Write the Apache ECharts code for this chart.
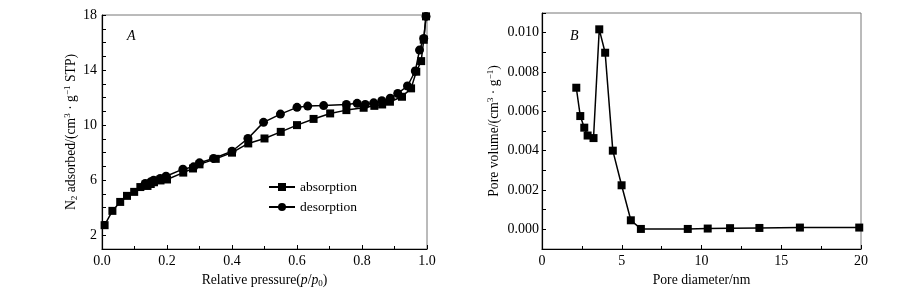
<!DOCTYPE html>
<html>
<head>
<meta charset="utf-8">
<script src="https://cdn.jsdelivr.net/npm/echarts@6/dist/echarts.min.js"></script>
<style>
  html, body { margin: 0; padding: 0; background: #fff; }
  #chart { width: 911px; height: 293px; }
</style>
</head>
<body>
<div id="chart"></div>
<script>
// panel A: N2 isotherm
const absP = [0.008, 0.032, 0.056, 0.077, 0.099, 0.118, 0.14, 0.15, 0.16, 0.18, 0.2, 0.25, 0.28, 0.3, 0.35, 0.4, 0.45, 0.5, 0.55, 0.6, 0.651, 0.702, 0.752, 0.805, 0.838, 0.862, 0.886, 0.923, 0.951, 0.967, 0.982, 0.99, 0.997]
const absV = [2.73, 3.77, 4.42, 4.86, 5.15, 5.5, 5.58, 5.72, 5.85, 5.98, 6.05, 6.55, 6.85, 7.15, 7.55, 8.0, 8.67, 9.03, 9.51, 10.0, 10.45, 10.85, 11.09, 11.26, 11.4, 11.5, 11.7, 12.06, 12.67, 13.88, 14.65, 16.2, 17.9]
const desP = [0.133, 0.15, 0.159, 0.179, 0.197, 0.249, 0.282, 0.3, 0.343, 0.4, 0.449, 0.497, 0.549, 0.6, 0.633, 0.682, 0.752, 0.785, 0.81, 0.836, 0.861, 0.887, 0.91, 0.94, 0.964, 0.977, 0.99, 0.997]
const desV = [5.76, 5.88, 6.0, 6.12, 6.29, 6.8, 6.97, 7.26, 7.58, 8.1, 9.03, 10.2, 10.8, 11.29, 11.38, 11.42, 11.5, 11.58, 11.5, 11.62, 11.77, 11.95, 12.3, 12.84, 13.93, 15.45, 16.3, 17.9]
const yTicksA = [2, 6, 10, 14, 18]
const yMinorA = [1, 2, 3, 4, 5, 6, 7, 8, 9, 10, 11, 12, 13, 14, 15, 16, 17, 18]

// panel B: pore size distribution
const poreD = [2.15, 2.4, 2.65, 2.86, 3.23, 3.59, 3.96, 4.44, 4.99, 5.57, 6.2, 9.14, 10.39, 11.79, 13.63, 16.17, 19.89]
const poreV = [0.0072, 0.00576, 0.00517, 0.00477, 0.00464, 0.01017, 0.00898, 0.0040, 0.00224, 0.00046, 0.00002, 0.00002, 0.00004, 0.00006, 0.00007, 0.00009, 0.00009]
const yTicksB = [0, 0.002, 0.004, 0.006, 0.008, 0.010]
const yMinorB = [-0.001, 0, 0.001, 0.002, 0.003, 0.004, 0.005, 0.006, 0.007, 0.008, 0.009, 0.010, 0.011]

const serif = 'Liberation Serif'
const black = '#000'

const nameRich = {
  a: { fontFamily: serif, fontSize: 13.7, color: black, lineHeight: 16 },
  i: { fontFamily: serif, fontSize: 13.7, fontStyle: 'italic', color: black, lineHeight: 16 },
  sub: { fontFamily: serif, fontSize: 9, color: black, verticalAlign: 'bottom', lineHeight: 16 },
  sup: { fontFamily: serif, fontSize: 9, color: black, verticalAlign: 'top', lineHeight: 16 },
}

const axisLine = { show: true, onZero: false, lineStyle: { color: black, width: 1.2 } }
const tickStyle = { inside: true, length: 4, lineStyle: { color: black, width: 1 } }
const labelStyle = { fontFamily: serif, fontSize: 14, color: black }

const chart = echarts.init(document.getElementById('chart'))
chart.setOption({
  animation: false,
  grid: [
    { left: 102, right: 484, top: 15, bottom: 44, show: true, borderColor: '#777', borderWidth: 1 },
    { left: 542, right: 50, top: 13, bottom: 44, show: true, borderColor: '#777', borderWidth: 1 },
  ],
  legend: {
    data: ['absorption', 'desorption'],
    orient: 'vertical',
    left: 263,
    top: 175,
    itemWidth: 26,
    itemHeight: 10,
    itemGap: 6,
    textStyle: { fontFamily: serif, fontSize: 13.5, color: black },
  },
  xAxis: [
    {
      gridIndex: 0, type: 'value', min: 0, max: 1, interval: 0.2,
      axisLine, axisTick: tickStyle,
      minorTick: { show: true, splitNumber: 2, length: 3, lineStyle: { color: black } },
      splitLine: { show: false },
      axisLabel: { ...labelStyle, margin: 5, formatter: v => v.toFixed(1) },
      name: '{a|Relative pressure(}{i|p}{a|/}{i|p}{sub|0}{a|)}',
      nameLocation: 'middle', nameGap: 19,
      nameTextStyle: { rich: nameRich },
    },
    {
      gridIndex: 1, type: 'value', min: 0, max: 20, interval: 5,
      axisLine, axisTick: tickStyle,
      minorTick: { show: true, splitNumber: 2, length: 3, lineStyle: { color: black } },
      splitLine: { show: false },
      axisLabel: { ...labelStyle, margin: 5 },
      name: '{a|Pore diameter/nm}',
      nameLocation: 'middle', nameGap: 19,
      nameTextStyle: { rich: nameRich },
    },
  ],
  yAxis: [
    {
      gridIndex: 0, type: 'value', min: 1, max: 18,
      axisLine, axisTick: { ...tickStyle, customValues: yMinorA },
      splitLine: { show: false },
      axisLabel: { ...labelStyle, margin: 5, customValues: yTicksA },
      name: '{a|N}{sub|2}{a| adsorbed/(cm}{sup|3}{a| · g}{sup|−1}{a| STP)}',
      nameLocation: 'middle', nameGap: 22, nameRotate: 90,
      nameTextStyle: { rich: nameRich },
    },
    {
      gridIndex: 1, type: 'value', min: -0.001, max: 0.011,
      axisLine, axisTick: { ...tickStyle, customValues: yMinorB },
      splitLine: { show: false },
      axisLabel: { ...labelStyle, margin: 3, customValues: yTicksB, formatter: v => v.toFixed(3) },
      name: '{a|Pore volume/(cm}{sup|3}{a| · g}{sup|−1}{a|)}',
      nameLocation: 'middle', nameGap: 40, nameRotate: 90,
      nameTextStyle: { rich: nameRich },
    },
  ],
  graphic: [
    { type: 'text', left: 127, top: 29, style: { text: 'A', font: 'italic 14px "Liberation Serif"', fill: black } },
    { type: 'text', left: 570, top: 29, style: { text: 'B', font: 'italic 14px "Liberation Serif"', fill: black } },
  ],
  series: [
    {
      name: 'absorption', type: 'line', xAxisIndex: 0, yAxisIndex: 0,
      data: absP.map((p, i) => [p, absV[i]]),
      symbol: 'rect', symbolSize: 8,
      lineStyle: { color: black, width: 1.5 },
      itemStyle: { color: black },
    },
    {
      name: 'desorption', type: 'line', xAxisIndex: 0, yAxisIndex: 0,
      data: desP.map((p, i) => [p, desV[i]]),
      symbol: 'circle', symbolSize: 9,
      lineStyle: { color: black, width: 1.5 },
      itemStyle: { color: black },
    },
    {
      name: 'pore', type: 'line', xAxisIndex: 1, yAxisIndex: 1,
      data: poreD.map((d, i) => [d, poreV[i]]),
      symbol: 'rect', symbolSize: 8,
      lineStyle: { color: black, width: 1.5 },
      itemStyle: { color: black },
    },
  ],
})
</script>
</body>
</html>
